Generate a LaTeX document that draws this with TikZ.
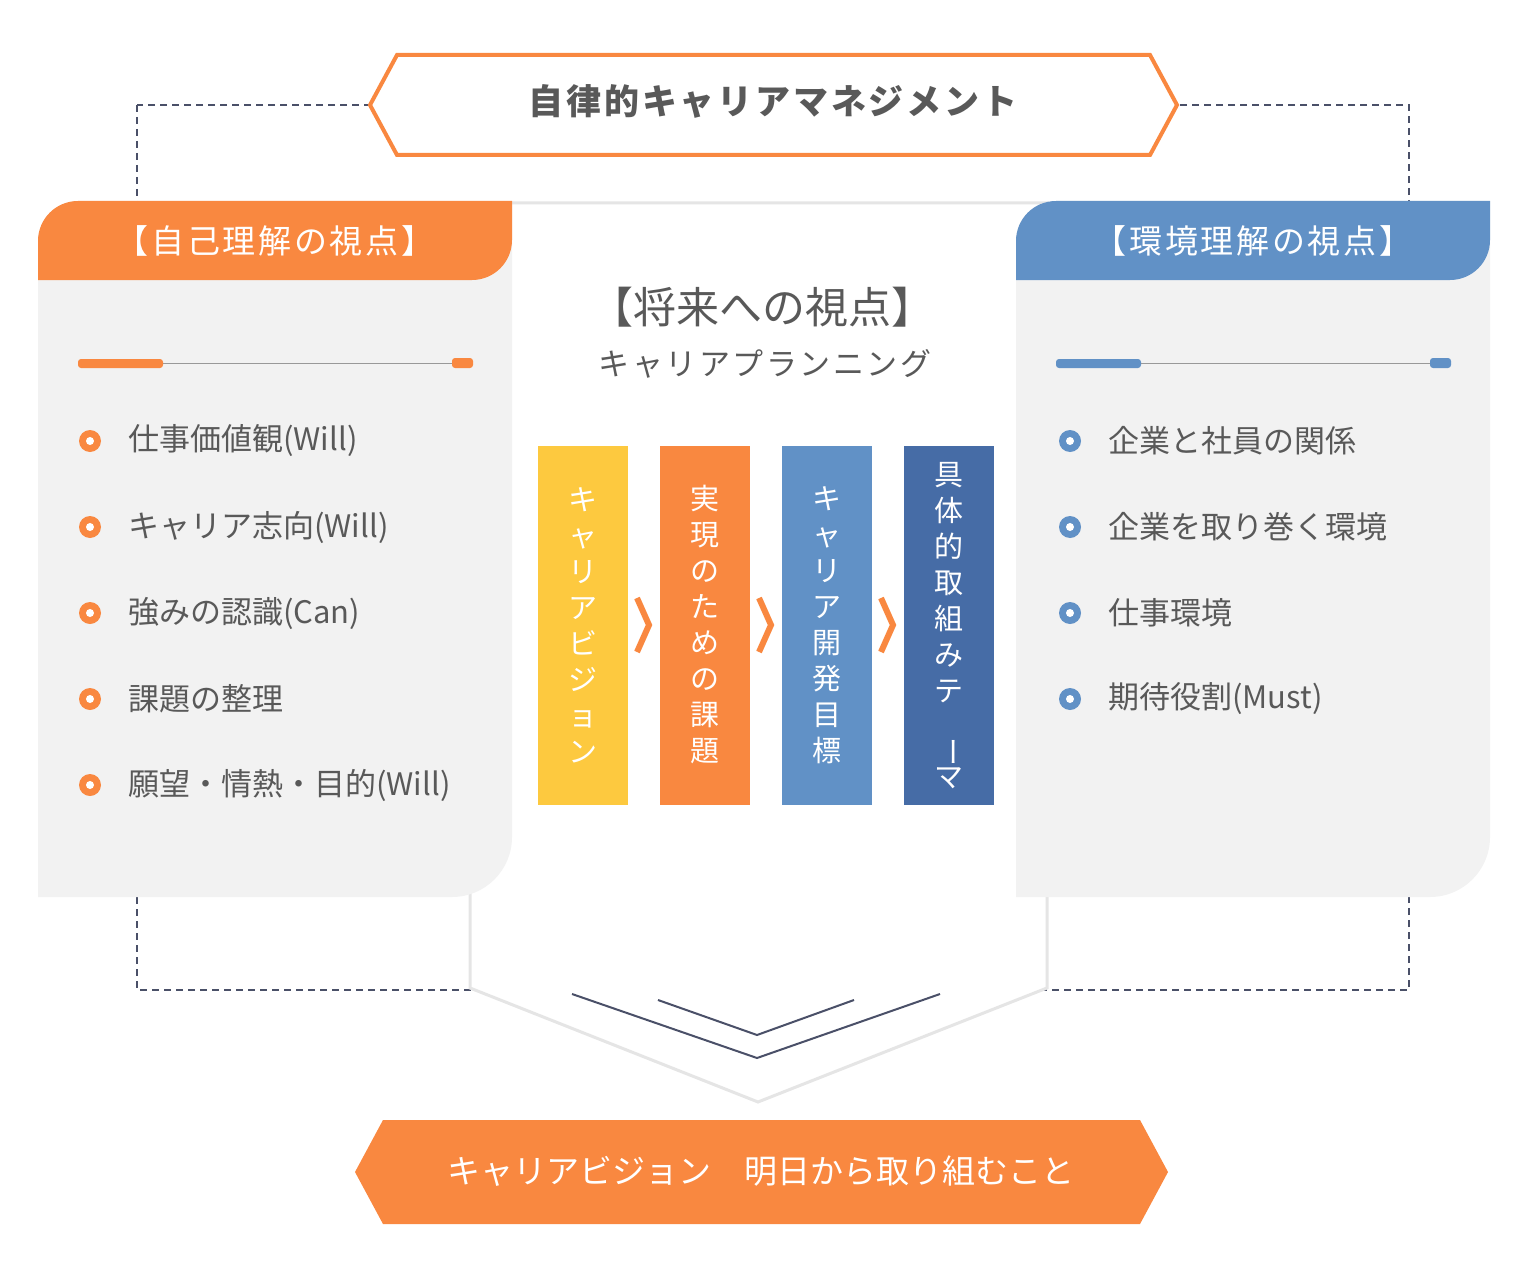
\documentclass[tikz,border=0pt]{standalone}
\usepackage{fontspec}
\setmainfont{Noto Sans CJK JP}
\newfontfamily\jpb{Noto Sans CJK JP}[LetterSpace=8]
\definecolor{og}{HTML}{F98840}
\definecolor{bl}{HTML}{6191C6}
\definecolor{yl}{HTML}{FDC93F}
\definecolor{db}{HTML}{466CA6}
\definecolor{tx}{HTML}{595959}
\definecolor{pn}{HTML}{F2F2F2}
\definecolor{dl}{HTML}{4A5068}
\tikzset{
 item/.style={anchor=west,text=tx,font=\fontsize{31}{36}\selectfont,inner sep=0},
 vbox/.style={minimum width=90pt,minimum height=359pt,inner sep=0},
 vtxt/.style={text=white,align=center,font=\fontsize{29}{36}\selectfont,inner sep=0},
 chev/.style={og,line width=6pt},
}
\newcommand{\bul}[2]{\fill[#1] (#2) circle(11); \fill[white] (#2) circle(4);}
\begin{document}
\begin{tikzpicture}[x=1pt,y=-1pt]
\useasboundingbox (0,0) rectangle (1528,1276);
\draw[dl,dashed,line width=2.5pt,dash pattern=on 7pt off 5pt] (137,105) rectangle (1409,990);
% top hexagon
\draw[og,line width=4pt,fill=white] (370,105)--(397,55)--(1150,55)--(1177,105)--(1150,155)--(397,155)--cycle;
\node[text=tx,font=\fontsize{35}{40}\selectfont\bfseries\jpb] (top) at (773,101) {自律的キャリアマネジメント};
% center panel
\draw[fill=white,draw=black!10,line width=3pt] (470,203)--(1047,203)--(1047,988)--(758,1102)--(470,988)--cycle;
% side panels
\foreach \dx/\c/\t in {0/og/【自己理解の視点】,978/bl/【環境理解の視点】}{
 \begin{scope}[xshift=\dx]
 \fill[pn] (38,897)--(38,241) arc[start angle=180,end angle=270,radius=40]--(512,201)--(512,837) arc[start angle=0,end angle=90,radius=60]--cycle;
 \fill[\c] (38,280)--(38,241) arc[start angle=180,end angle=270,radius=40]--(512,201)--(512,240) arc[start angle=0,end angle=90,radius=40]--cycle;
 \node[text=white,font=\fontsize{33}{38}\selectfont\jpb] at (275,241) {\t};
 \draw[black!40,line width=1pt] (160,363)--(458,363);
 \fill[\c,rounded corners=3] (78,359) rectangle (163,368);
 \fill[\c,rounded corners=3] (452,358) rectangle (473,368);
 \end{scope}}
% left items
\foreach \y/\t [count=\i] in {441/仕事価値観(Will),527/キャリア志向(Will),613/強みの認識(Can),699/課題の整理,785/願望・情熱・目的(Will)}{
 \bul{og}{90,\y}
 \node[item] (l\i) at (128,\y) {\t};}
\foreach \y/\t [count=\i] in {441/企業と社員の関係,527/企業を取り巻く環境,613/仕事環境,699/期待役割(Must)}{
 \bul{bl}{1070,\y}
 \node[item] (r\i) at (1108,\y) {\t};}
% center title
\node[text=tx,font=\fontsize{43}{48}\selectfont] (ct) at (762,307) {【将来への視点】};
\node[text=tx,font=\fontsize{31}{36}\selectfont\jpb] (cs) at (765,364) {キャリアプランニング};
% boxes
\node[vbox,fill=yl] (b1) at (583,625.5) {};
\node[vbox,fill=og] (b2) at (705,625.5) {};
\node[vbox,fill=bl] (b3) at (827,625.5) {};
\node[vbox,fill=db] (b4) at (949,625.5) {};
\node[vtxt] at (583,625) {キ\\ャ\\リ\\ア\\ビ\\ジ\\ョ\\ン};
\node[vtxt] at (705,625) {実\\現\\の\\た\\め\\の\\課\\題};
\node[vtxt] at (827,625) {キ\\ャ\\リ\\ア\\開\\発\\目\\標};
\node[vtxt] at (949,626) {具\\体\\的\\取\\組\\み\\テ\\\rotatebox{-90}{ー}\\マ};
\foreach \x in {643,765,887}{\draw[chev] (\x-6,598)--(\x+6,625)--(\x-6,652);}
% down chevrons
\draw[dl,line width=2pt] (572,994)--(757,1058)--(940,994);
\draw[dl,line width=2pt] (658,1000)--(757,1035)--(854,1000);
% bottom banner
\fill[og] (355,1172)--(383,1120)--(1140,1120)--(1168,1172)--(1140,1224)--(383,1224)--cycle;
\node[text=white,font=\fontsize{33}{38}\selectfont] (bot) at (761,1171) {キャリアビジョン　明日から取り組むこと};
\end{tikzpicture}
\end{document}
